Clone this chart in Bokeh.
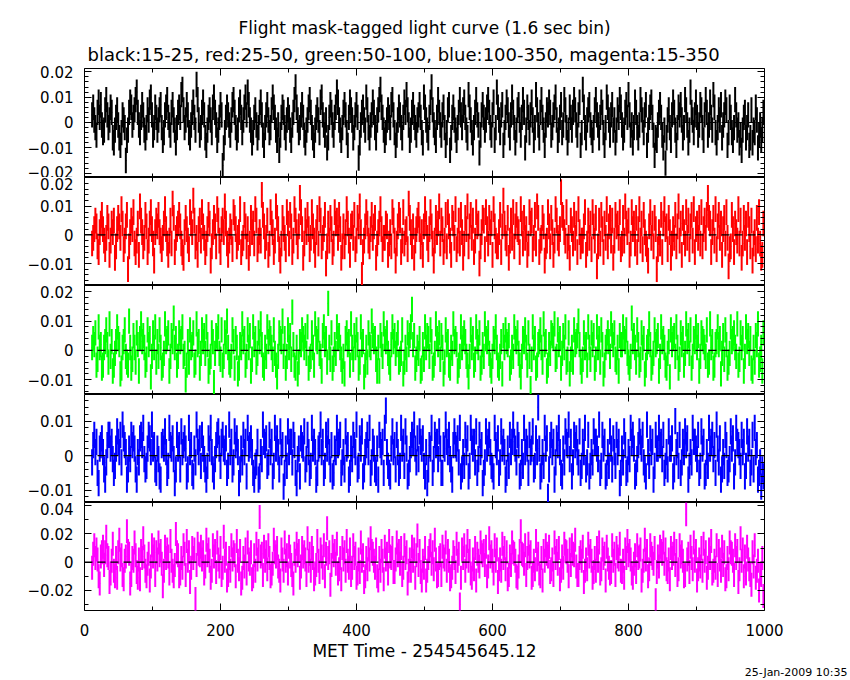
import numpy as np
from bokeh.plotting import figure
from bokeh.models import (Range1d, LinearAxis, Title, Span, FixedTicker, CustomJSTickFormatter,
                          ColumnDataSource, CustomLabelingPolicy)
from bokeh.layouts import column
from bokeh.embed import file_html
from bokeh.resources import INLINE

# ---------------- data (rates in units of 0.001, 1.6 s bins) ----------------
t_start = 11.2
bin_width = 1.6
unit = 0.001

black_15_25 = [
    3,6,1,-2,-5,4,8,2,7,-1,-4,-3,5,9,3,-2,1,6,4,-6,
    -8,-3,2,5,-1,-6,-9,-4,3,1,-2,-15,-7,-3,4,8,6,-1,2,5,
    9,12,4,-1,-4,2,7,3,-3,-6,-2,5,1,8,10,3,-5,-2,6,2,
    -3,1,5,7,-2,-7,-4,3,6,9,2,-1,-5,4,7,1,-3,-8,-2,4,
    6,2,11,13,5,-2,1,7,3,-4,-6,-1,4,8,2,-3,15,9,1,-5,
    -2,4,8,3,-6,-9,-3,2,5,1,-4,6,10,4,-1,-7,-3,2,7,3,
    -17,-10,-4,2,6,3,-1,-5,1,7,9,4,-2,-6,-3,5,8,2,-4,1,
    6,10,3,12,7,1,-3,-8,-4,2,5,-1,-6,-2,4,8,3,-5,-9,-2,
    3,7,1,-4,-2,5,10,6,2,-3,-7,-1,-11,-5,2,6,4,-2,-6,1,
    5,2,-3,-7,-1,4,9,14,6,1,-4,-2,3,7,2,-5,-8,-3,1,6,
    9,4,-2,-6,-9,-3,2,5,1,-4,8,10,3,-1,-5,1,-10,-6,2,7,
    4,-1,-5,2,6,12,8,1,-3,-7,-2,4,7,3,-4,-9,2,8,5,1,
    -6,-2,3,7,2,-14,-8,-1,4,6,1,-3,10,5,-2,-6,-1,3,8,4,
    -2,-6,1,5,9,13,6,2,-3,-7,-4,1,5,2,-2,7,9,3,-4,-9,
    -5,1,6,3,-2,-6,2,8,4,11,5,-1,-7,-3,4,7,2,-2,-5,1,
    3,7,2,-4,-8,10,6,1,-3,-6,2,8,14,5,-1,-4,-7,2,9,4,
    -1,-5,3,6,-2,-9,-4,5,7,-11,-6,2,6,1,-3,-7,-2,4,9,3,
    -2,5,8,2,-3,-6,11,6,1,-4,-8,-2,4,9,3,-1,-12,-5,3,7,
    2,-3,1,6,9,4,-2,-5,3,8,-7,-2,12,6,1,-4,3,7,-9,-4,
    2,8,5,-1,-6,3,10,4,-2,-8,-3,5,7,1,-5,2,9,4,-10,-3,
    6,2,-4,3,8,1,-7,-2,11,5,-1,-6,4,9,2,-3,-9,-1,5,3,
    8,4,-5,-2,3,6,10,1,-7,-3,2,7,-4,-1,9,5,-2,-8,-3,6,
    2,-3,4,9,5,-1,-5,3,8,-9,-4,13,6,-2,-6,1,5,7,-1,-4,
    -7,-2,5,9,3,-1,-6,2,8,4,-4,-9,-2,10,6,1,-5,3,7,-3,
    1,-8,-3,5,2,9,6,-1,-6,-3,4,7,2,11,3,-5,-1,-8,-2,8,
    4,-2,-6,-1,9,5,1,-4,3,7,-9,-3,2,6,8,2,-5,-13,-6,-7,
    -1,4,7,2,-5,-10,-3,-16,-6,1,5,-2,-7,3,8,4,-3,-9,-2,6,
    3,7,1,-6,-2,9,5,-1,-8,-3,12,4,1,-4,3,8,2,-5,-1,7,
    5,-2,-7,3,9,4,-5,-1,8,2,-3,11,6,-4,-8,-2,5,1,7,-6,
    -1,3,8,5,-9,-4,6,2,-4,-7,-2,9,3,-3,-1,-8,-5,-11,-3,2,
    4,-6,-2,3,-9,-6,5,-8,-3,-4,6,1,-10,-5,-1,-7,-3,4,
]

red_25_50 = [
    -3,-1,2,5,3,-4,-6,1,4,7,2,-2,-5,-1,6,3,-7,-2,4,1,
    5,-8,-4,2,6,3,-1,9,4,-5,-2,3,7,-12,-4,1,5,2,8,-3,
    -6,-2,4,-7,10,5,1,-4,-1,7,3,-6,-2,4,8,2,-3,-9,1,5,
    3,7,1,-2,-5,-1,4,9,2,-3,-7,-2,5,-3,11,6,-6,-1,2,4,
    7,3,-3,-6,-8,1,6,2,-2,-5,8,4,1,12,5,-4,-1,-7,2,5,
    -2,8,3,-1,-6,-3,2,7,4,-9,-4,1,6,3,-4,9,5,-2,-6,2,
    5,1,10,4,-3,-7,-2,3,1,-5,8,6,2,-4,-1,1,9,-6,-3,-1,
    7,3,-4,2,-8,-3,6,1,4,-3,9,5,-5,-2,1,-2,14,7,3,-4,
    -1,5,-7,-3,8,4,1,-6,-2,10,6,2,-5,-9,-3,6,2,-1,-5,8,
    4,-3,7,3,-6,-2,9,5,1,-4,3,13,8,2,-8,-3,5,1,7,2,
    -5,-1,8,3,-2,-7,1,6,-3,9,5,-4,-1,2,7,-10,-4,4,-2,6,
    2,-6,-3,8,4,5,-1,7,2,-8,-4,3,-4,1,9,4,-2,-7,3,4,
    -1,7,-5,-2,6,3,10,1,-14,-6,-2,3,8,4,-2,-4,2,7,-1,3,
    6,-8,-3,1,4,9,2,-5,-1,-1,4,3,-7,-3,1,-4,8,5,-2,-9,
    -3,3,7,5,-6,-2,8,-3,1,2,-5,11,6,1,-4,3,-8,-2,2,5,
    7,2,-4,1,-7,3,9,4,-1,-5,2,8,3,-3,-9,-2,6,1,4,10,
    -3,5,2,-6,-2,7,-4,8,3,-2,-7,6,4,-1,9,-5,-2,5,-3,7,
    1,-8,-3,6,2,10,-4,3,7,-1,5,-6,-2,8,3,4,-10,-4,1,6,
    5,-5,8,2,-3,6,1,4,-7,9,3,-2,-4,-4,1,7,-6,3,12,4,
    -1,-3,6,-8,-2,5,-1,8,-4,3,7,2,1,-6,9,4,-3,6,-1,2,
    -7,-3,8,4,5,-5,-1,7,-3,10,6,-6,-2,-1,6,3,-9,-4,-2,8,
    3,-4,6,1,-7,-2,9,5,-1,-3,2,15,7,6,1,-2,8,-4,-1,-8,
    5,2,-3,7,-1,4,-6,9,1,-4,-2,-2,3,8,-7,-3,5,-1,4,-5,
    8,3,-2,6,-11,-4,5,-3,7,2,-6,4,-1,9,-4,3,6,-2,5,-8,
    -2,7,3,4,-1,8,-5,-3,6,-2,10,4,1,5,-7,-3,8,2,4,-3,
    6,-6,2,9,-2,4,-5,7,1,-3,-5,-9,3,8,-1,4,-4,6,2,-12,
    -5,1,-3,7,-6,4,9,2,3,-5,6,1,-8,-3,2,-1,7,-4,3,10,
    -2,4,-7,6,1,-3,8,-1,5,-5,3,7,-2,9,-6,2,4,-1,6,-3,
    8,-4,2,5,-1,7,13,6,4,-6,1,6,-2,9,-5,3,7,-1,4,-7,
    2,6,-3,8,-1,-11,-5,-4,7,2,-6,4,1,-2,9,-3,5,-8,-3,6,
    -1,4,-6,7,2,-4,5,-9,-3,1,-5,6,-2,8,-3,-8,-7,4,
]

green_50_100 = [
    1,4,2,6,-5,-3,8,1,2,-6,-5,1,3,7,2,-4,9,-2,3,-7,
    -5,-1,3,8,4,2,-8,-6,1,3,7,-2,-4,-5,10,1,-6,-3,5,1,
    -4,6,2,-7,4,9,3,5,1,-5,-3,7,2,4,-9,-2,6,1,8,-4,
    3,-2,7,1,-6,-5,-1,9,3,4,6,-7,-2,5,3,11,1,4,-5,-2,
    6,3,4,8,-2,-1,-10,-5,3,-4,7,1,2,6,-5,-4,9,2,3,-6,
    -1,7,3,5,-1,8,2,-7,-4,-2,6,3,-11,-1,5,4,8,-1,-3,7,
    -5,-2,6,3,10,1,-4,-5,-2,7,3,-6,4,1,-8,-6,2,1,9,3,
    4,-5,-2,7,1,5,-7,-3,8,2,4,-4,-1,6,3,9,2,-5,-6,1,
    -2,8,3,6,4,1,-3,7,-1,-5,-9,-2,6,4,3,10,-2,4,-6,-2,
    7,1,5,-3,13,2,-5,-6,1,-8,-4,3,2,7,4,1,5,-1,8,-6,
    -3,-2,6,1,-5,9,4,3,7,-1,-2,-7,5,8,2,4,-4,16,1,-3,
    6,-6,-3,2,-1,8,4,5,1,-3,-7,-2,-8,4,6,2,3,-5,9,1,
    -3,5,1,7,2,-6,-4,8,2,3,-9,-5,1,-4,6,2,1,10,5,3,
    4,-3,-7,1,-7,5,2,-2,9,4,3,6,-1,-4,-6,2,8,3,5,-1,
    2,6,-4,-3,-1,7,-8,-4,1,-3,6,2,5,8,14,2,5,-6,-3,1,
    -1,4,-7,-6,2,-3,8,1,5,4,-2,7,3,-6,-5,-1,9,4,2,6,
    -3,5,1,-8,-4,7,2,3,-5,-6,1,-1,9,3,4,2,-7,-5,-2,8,
    1,4,6,3,-2,-5,-9,-2,7,1,4,-5,-3,8,3,1,6,-6,-4,2,
    -2,9,4,3,6,-1,-5,-7,-2,4,3,8,1,-5,-6,-2,3,-8,5,1,
    7,3,2,5,-6,-4,1,-2,8,4,3,6,-1,-5,-9,-2,4,3,7,1,
    -5,6,-2,-13,-3,8,1,4,-6,-5,2,3,7,1,-4,9,2,3,-7,-5,
    2,-1,6,5,4,9,-3,-2,7,2,4,-6,-1,5,1,8,-4,-3,6,-8,
    -3,1,-4,7,2,3,5,10,2,-4,-7,-3,6,1,2,-5,8,1,-3,6,
    2,5,-6,-3,8,1,4,-4,7,2,-8,-5,1,3,6,3,-2,9,5,2,
    6,-3,-4,1,-7,5,2,2,8,4,3,7,-1,-4,-6,-2,11,3,5,1,
    -4,7,2,-5,-3,6,1,4,-8,-5,1,3,9,2,-6,-4,-1,7,2,3,
    5,-7,-2,8,3,4,1,-5,-6,-1,3,-9,7,2,4,5,-2,8,1,-6,
    -3,6,2,4,-5,-1,9,3,5,-1,7,-6,-2,4,3,8,1,5,-7,-2,
    6,4,3,1,-2,7,-5,-4,9,1,3,-6,-5,2,3,8,2,4,-8,-1,
    5,-3,7,2,-6,-4,-1,8,3,4,6,1,-2,9,-5,-3,6,1,4,-7,
    -2,8,3,5,-1,4,-6,-7,1,-4,5,2,9,-5,-3,1,-7,6,
]

blue_100_350 = [
    -2,3,6,1,4,-5,-8,2,3,5,1,-4,-7,-2,3,6,6,2,4,-1,
    -5,-3,2,7,4,1,6,-2,9,5,3,1,-7,-4,2,-1,6,3,5,2,
    -4,-7,1,-2,5,6,3,8,-1,-4,-3,2,6,5,1,9,2,3,-4,-5,
    2,-1,-6,-7,3,4,2,7,1,-5,-3,8,3,2,5,-1,-8,-4,6,2,
    3,-4,7,1,3,5,2,-6,-4,8,1,3,-5,-6,2,-2,9,4,1,5,
    -3,6,2,-1,-4,-7,-3,5,2,8,1,-4,-6,-1,3,6,7,2,-3,4,
    6,2,1,5,-5,-3,9,1,4,-4,-2,7,3,5,1,-8,-4,2,-2,6,
    1,4,-6,8,2,3,5,1,-5,-7,-3,-2,4,-7,-6,1,-1,9,4,3,
    5,-3,-2,6,1,4,-6,-3,8,2,5,1,-4,7,1,3,-9,-5,2,-3,
    7,1,4,4,-2,6,3,-5,-8,-1,2,-6,5,3,2,7,-4,-1,6,1,
    -5,-3,8,2,4,1,-7,-5,2,3,9,1,4,-5,-3,6,2,7,1,-4,
    3,-6,-5,2,1,8,3,4,6,-5,-2,1,-4,7,2,3,-7,-5,2,-1,
    6,3,1,9,-4,-3,5,2,7,-6,-4,1,3,6,1,8,-5,-2,4,2,
    -4,-5,2,-7,6,3,1,4,-5,8,13,1,-3,-5,-6,2,7,1,3,-4,
    6,1,-5,-3,8,2,4,-3,7,2,-6,-5,-1,3,6,4,9,2,-2,5,
    -1,7,4,2,5,-3,-6,1,-8,-4,3,2,8,-5,-1,6,3,4,-1,7,
    2,-5,-5,3,2,9,4,1,6,-1,-4,-7,3,7,3,2,5,-2,8,-6,
    -4,1,-3,6,1,5,-6,-3,8,4,2,4,-2,7,-5,-1,6,1,3,-8,
    -5,-2,7,2,4,6,1,-3,-4,-6,8,3,1,5,-5,-2,7,2,4,1,
    -7,-5,2,-3,6,1,4,9,4,2,-2,6,3,-6,-5,1,-3,8,1,4,
    2,-5,6,1,2,7,-4,-3,5,1,14,2,-6,-4,1,-3,8,2,5,-12,
    -4,3,6,1,4,-7,-2,5,3,8,1,-5,-6,2,-2,7,4,3,9,-1,
    4,-6,-2,6,3,5,1,-2,7,-5,-3,4,1,8,-4,-2,6,-6,-3,1,
    -2,7,4,4,2,-1,9,-5,-3,6,2,4,-6,-5,1,-3,7,2,-4,5,
    1,-3,6,1,4,-8,-5,2,-2,7,3,-5,-4,1,-1,8,4,6,2,-6,
    -5,-1,3,7,4,2,6,-2,-4,-6,9,1,-3,5,1,4,-7,-3,6,2,
    2,8,3,4,-1,6,-5,-3,1,-4,7,2,2,5,-6,-4,10,1,3,-3,
    6,-5,-2,4,1,7,3,5,-7,-3,1,-2,8,4,4,2,-1,6,-5,-3,
    7,2,4,-6,-5,1,-3,8,2,4,6,-1,3,-5,9,2,-2,5,-7,-4,
    1,-3,6,3,-5,-4,-1,7,2,5,-6,-2,8,4,3,1,-3,6,1,4,
    -6,-3,7,2,4,-5,-2,6,-4,8,1,3,-7,-5,-2,-9,-4,-6,
]

magenta_15_350 = [
    -4,6,12,3,9,2,-10,-15,4,7,11,-2,7,18,5,3,-14,-8,1,13,
    -6,-10,3,-11,7,16,2,5,-9,-12,1,4,22,8,6,-15,-9,3,1,14,
    5,-7,-11,2,-12,8,3,17,4,-6,-10,-1,6,-13,-3,12,4,9,-9,7,
    2,14,5,8,-1,-17,-6,11,3,9,4,-8,15,1,-6,-10,-2,20,7,5,
    -10,-8,3,-4,12,6,-9,15,1,7,-14,-4,10,3,9,-26,-2,13,6,5,
    11,2,7,-8,-3,16,5,9,1,-11,-6,12,4,8,-7,14,2,-3,10,-9,
    -4,18,1,6,-13,-9,3,-6,12,2,7,5,-10,15,1,-5,8,-15,-11,3,
    -3,9,-8,14,2,-1,7,-12,-10,5,-6,13,2,8,32,4,6,-9,11,1,
    7,-5,12,3,-10,-8,-1,16,7,4,10,-3,-6,-13,9,2,-6,14,1,5,
    -8,11,4,-2,-9,-15,6,1,13,5,8,-11,-3,10,4,7,2,-9,17,1,
    6,-6,10,3,-12,-8,-2,15,1,-7,9,4,-4,12,-10,6,24,3,7,-16,
    -2,11,5,8,-1,13,-8,-5,3,-12,10,2,7,-6,15,1,-4,9,-9,-4,
    12,3,6,-11,-8,2,-7,14,1,5,-14,-10,3,-5,9,2,17,8,6,1,
    -4,9,-10,-13,3,-6,8,1,-12,11,2,6,-8,15,4,3,10,-7,-7,2,
    14,5,8,-1,10,-9,-4,12,3,7,-15,-6,2,-6,11,1,9,-11,5,19,
    -2,8,-7,-13,1,-4,10,-13,-6,3,8,12,-1,7,-5,16,2,-10,-9,3,
    5,-9,11,4,2,14,-6,8,1,-12,-10,-4,7,3,-7,13,1,6,-30,-11,
    9,3,12,-6,4,15,1,8,-8,-11,2,-5,10,-13,6,1,-3,14,7,5,
    8,-2,11,-10,-3,17,4,7,1,-8,12,1,9,-14,-5,2,-6,13,3,10,
    -5,7,-12,-9,4,-2,14,7,6,1,-10,-11,-3,8,22,6,5,-1,12,-9,
    3,13,4,7,-11,-9,1,-5,15,2,6,-8,-10,3,-13,8,1,12,6,4,
    11,-7,-5,2,-9,14,3,8,-1,10,-12,-6,4,-4,13,8,7,1,-10,9,
    -2,12,6,5,16,-3,-9,-9,3,7,1,11,-14,-6,2,-5,13,4,8,1,
    -11,-7,3,-6,10,1,14,-8,-5,9,3,6,-13,11,2,-4,-8,-7,12,1,
    6,-9,10,4,2,13,-6,-7,1,-11,9,3,15,5,8,2,-8,-11,-1,5,
    -7,12,3,4,9,-13,-6,1,16,2,8,-10,-5,12,6,3,-1,10,-27,-7,
    4,-3,11,8,6,14,-1,9,-5,-7,2,-12,10,3,6,13,-2,8,-9,-5,
    12,4,7,1,-10,-9,34,2,6,-7,11,3,-5,14,1,8,-13,-5,2,-3,
    10,-6,13,1,7,-11,-4,9,3,15,-8,-6,1,-4,12,-9,8,2,-6,11,
    -2,7,-12,-10,3,-5,14,7,6,1,-9,12,3,8,-14,-5,17,1,9,-10,
    4,-8,11,2,-5,-9,-16,7,-3,12,-11,-6,1,-20,-8,-9,3,-24,
]

# 1-sigma error of each bin (same units)
err_black = 5.0
err_red = 4.5
err_green = 4.3
err_blue = 3.8
err_magenta = 8.5

title_text = "Flight mask-tagged light curve (1.6 sec bin)"
subtitle_text = "black:15-25, red:25-50, green:50-100, blue:100-350, magenta:15-350"
xlabel_text = "MET Time - 254545645.12"
date_text = "25-Jan-2009 10:35"

x_major = [0, 200, 400, 600, 800, 1000]
x_minor = [100, 300, 500, 700, 900]

panels = [
    dict(vals=black_15_25, err=err_black, color="#000000", yr=(-0.0217, 0.0213),
         major=[-0.02, -0.01, 0.0, 0.01, 0.02], minor_step=0.002),
    dict(vals=red_25_50, err=err_red, color="#ff0000", yr=(-0.0177, 0.0201),
         major=[-0.01, 0.0, 0.01, 0.02], minor_step=0.002),
    dict(vals=green_50_100, err=err_green, color="#00ff00", yr=(-0.0150, 0.0221),
         major=[-0.01, 0.0, 0.01, 0.02], minor_step=0.002),
    dict(vals=blue_100_350, err=err_blue, color="#0000ff", yr=(-0.0136, 0.0177),
         major=[-0.01, 0.0, 0.01], minor_step=0.002),
    dict(vals=magenta_15_350, err=err_magenta, color="#ff00ff", yr=(-0.0342, 0.0423),
         major=[-0.02, 0.0, 0.02, 0.04], minor_step=0.01),
]

# ---------------- layout ----------------
FONT = "DejaVu Sans"
W = 850
LEFT = 84
RIGHT = W - LEFT - 680
frame_h = [109, 108, 109, 108, 108]
TOP = 68
BOTTOM = 70

xr = Range1d(0, 1000)

yfmt_code = """
if (Math.abs(tick) < 1e-9) return '0';
const s = Math.abs(tick).toFixed(2);
return (tick < 0 ? '\u2212' : '') + s;
"""

no_labels_code = """
for (let i = 0; i < indices.size; i++) { indices.unset(i) }
return indices
"""


def tick_style(ax, show_labels):
    ax.major_tick_in = 7
    ax.major_tick_out = 0
    ax.minor_tick_in = 4
    ax.minor_tick_out = 0
    ax.major_tick_line_color = "black"
    ax.minor_tick_line_color = "black"
    ax.axis_line_color = None
    ax.major_label_text_font = FONT
    ax.major_label_text_color = "black"
    if show_labels:
        ax.major_label_text_font_size = "15px"
    else:
        ax.major_label_text_font_size = "0px"
        ax.major_label_standoff = 0
        ax.major_label_policy = CustomLabelingPolicy(code=no_labels_code)


figs = []
n = len(panels)
for i, pd_ in enumerate(panels):
    first = i == 0
    last = i == n - 1
    h = frame_h[i] + (TOP if first else 0) + (BOTTOM if last else 0)
    lo = np.round(np.ceil(pd_["yr"][0] / pd_["minor_step"]) * pd_["minor_step"], 4)
    yminor = list(np.round(np.arange(lo, pd_["yr"][1], pd_["minor_step"]), 4))
    yticker = FixedTicker(ticks=pd_["major"], minor_ticks=yminor)
    xticker = FixedTicker(ticks=x_major, minor_ticks=x_minor)

    p = figure(width=W, height=h, x_range=xr, y_range=Range1d(*pd_["yr"]),
               output_backend="svg", toolbar_location=None, title=None,
               min_border_left=LEFT, min_border_right=RIGHT,
               min_border_top=TOP if first else 0,
               min_border_bottom=BOTTOM if last else 0)
    p.grid.visible = False
    p.background_fill_color = "white"
    p.border_fill_color = "white"
    p.outline_line_color = "black"
    p.outline_line_width = 1
    p.outline_line_alpha = 1

    # left axis with labels
    p.yaxis.ticker = yticker
    p.yaxis.formatter = CustomJSTickFormatter(code=yfmt_code)
    tick_style(p.yaxis[0], True)
    p.yaxis.major_label_standoff = 11

    # right axis, ticks only
    ra = LinearAxis(ticker=yticker)
    tick_style(ra, False)
    p.add_layout(ra, "right")

    # bottom axis
    p.xaxis.ticker = xticker
    tick_style(p.xaxis[0], last)
    if last:
        p.xaxis.major_label_standoff = 13
        p.xaxis.axis_label = xlabel_text
        p.xaxis.axis_label_text_font = FONT
        p.xaxis.axis_label_text_font_size = "17px"
        p.xaxis.axis_label_text_font_style = "normal"
        p.xaxis.axis_label_text_color = "black"
        p.xaxis.axis_label_standoff = 2

    # top axis, ticks only
    ta = LinearAxis(ticker=xticker)
    tick_style(ta, False)
    p.add_layout(ta, "above")

    # data: error bars + bin-width bars
    v = np.array(pd_["vals"], dtype=float) * unit
    e = pd_["err"] * unit
    x = t_start + bin_width * np.arange(len(v))
    src = ColumnDataSource(dict(x=x, xl=x - bin_width / 2, xr=x + bin_width / 2,
                                y=v, ylo=v - e, yhi=v + e))
    p.segment(x0="x", y0="ylo", x1="x", y1="yhi", source=src,
              line_color=pd_["color"], line_width=2)
    p.segment(x0="xl", y0="y", x1="xr", y1="y", source=src,
              line_color=pd_["color"], line_width=1)

    p.add_layout(Span(location=0, dimension="width", line_color="black",
                      line_width=1.2, line_dash="8 5"))

    if first:
        p.add_layout(Title(text=subtitle_text, align="left", offset=3, standoff=7,
                           text_font=FONT, text_font_size="18px", text_line_height=1.0,
                           text_font_style="normal", text_color="black"), "above")
        p.add_layout(Title(text=title_text, align="center", standoff=2,
                           text_font=FONT, text_font_size="17px", text_line_height=1.0,
                           text_font_style="normal", text_color="black"), "above")
    if last:
        p.add_layout(Title(text=date_text, align="right", offset=-83, standoff=0,
                           text_font=FONT, text_font_size="11px",
                           text_font_style="normal", text_color="black"), "below")
    figs.append(p)

layout = column(*figs, spacing=0)
open("out.html", "w").write(file_html(layout, INLINE))
